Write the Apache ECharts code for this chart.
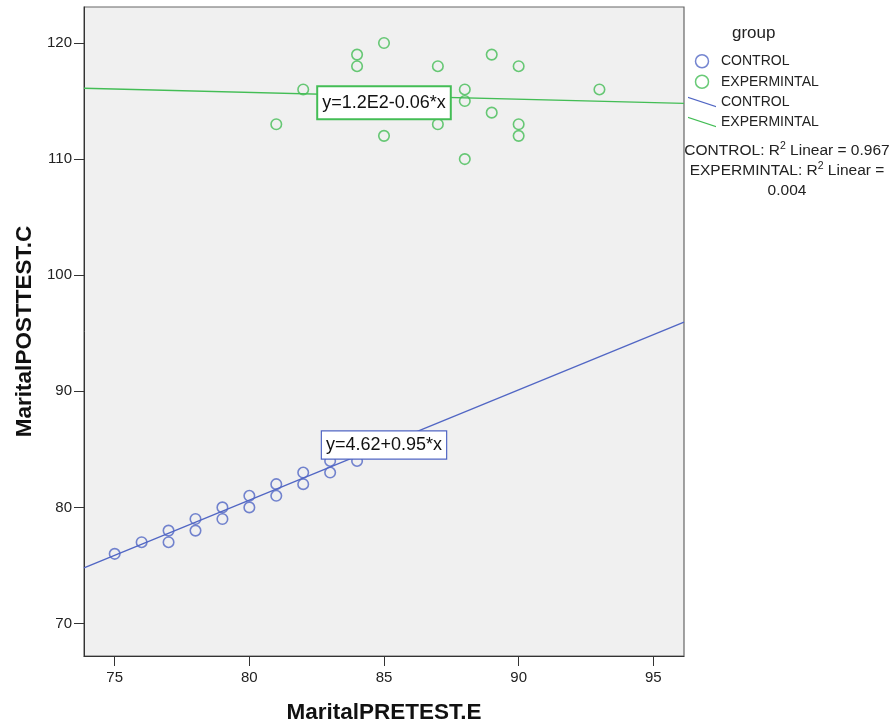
<!DOCTYPE html>
<html style="height: 100%">
<head>
<meta charset="utf-8">
</head>
<body style="height: 100%; margin: 0; background: #fff">
<div id="container" style="width: 892px; height: 724px"></div>
<script src="https://cdn.jsdelivr.net/npm/echarts@6/dist/echarts.min.js"></script>
<script>
// pretest / posttest scores per group
var controlX = [75, 76, 77, 77, 78, 78, 79, 79, 80, 80, 81, 81, 82, 82, 83, 83, 84];
var controlY = [76, 77, 78, 77, 79, 78, 80, 79, 81, 80, 82, 81, 83, 82, 84, 83, 84];
var expX = [85, 84, 84, 87, 89, 90, 82, 88, 88, 93, 81, 87, 89, 90, 85, 90, 88];
var expY = [120, 119, 118, 118, 119, 118, 116, 116, 115, 116, 113, 113, 114, 113, 112, 112, 110];

// fitted lines (intercept, slope) and their labels
var controlFit = [4.62, 0.95];
var expFit = [120.43, -0.0586];
var controlFitLabel = 'y=4.62+0.95*x';
var expFitLabel = 'y=1.2E2-0.06*x';
var r2Control = '0.967';
var r2Exp = '0.004';

var xTicks = [75, 80, 85, 90, 95];
var yTicks = [70, 80, 90, 100, 110, 120];
var xMin = 73.86, xMax = 96.14;
var yMin = 67.2, yMax = 123.1;

var blue = '#5166c4';
var green = '#43bd55';

function pairs(xs, ys) {
    var res = [];
    for (var i = 0; i < xs.length; i++) res.push([xs[i], ys[i]]);
    return res;
}
function fitLine(fit) {
    return [[xMin, fit[0] + fit[1] * xMin], [xMax, fit[0] + fit[1] * xMax]];
}

var font = '"Liberation Sans", Arial, sans-serif';

var myChart = echarts.init(document.getElementById('container'));

var option = {
    animation: false,
    textStyle: { fontFamily: font },
    grid: {
        left: 84, right: 208, top: 7, bottom: 68,
        outerBoundsMode: 'none',
        containLabel: false,
        show: true,
        backgroundColor: '#f0f0f0',
        borderColor: '#666',
        borderWidth: 1.2
    },
    title: {
        text: 'group',
        left: 727, top: 20,
        textStyle: { fontSize: 17, fontWeight: 'normal', color: '#222', fontFamily: font }
    },
    legend: {
        orient: 'vertical',
        left: 683, top: 49,
        itemWidth: 28, itemHeight: 13, itemGap: 6,
        selectedMode: false,
        textStyle: { fontSize: 14, color: '#222', fontFamily: font },
        formatter: function (name) { return name.trim(); },
        data: [
            { name: 'CONTROL', icon: 'circle', itemStyle: { color: 'rgba(0,0,0,0)', borderColor: blue, borderWidth: 1.5 } },
            { name: 'EXPERMINTAL', icon: 'circle', itemStyle: { color: 'rgba(0,0,0,0)', borderColor: green, borderWidth: 1.5 } },
            { name: 'CONTROL ', icon: 'path://M0,0L30,10L30,11.4L0,1.4Z', itemStyle: { color: blue, borderWidth: 0 } },
            { name: 'EXPERMINTAL ', icon: 'path://M0,0L30,10L30,11.4L0,1.4Z', itemStyle: { color: green, borderWidth: 0 } }
        ]
    },
    graphic: [{
        type: 'text',
        x: 787, y: 141,
        style: {
            text: '{a|CONTROL: R}{s|2}{a| Linear = ' + r2Control + '}\n{a|EXPERMINTAL: R}{s|2}{a| Linear =}\n{a|' + r2Exp + '}',
            align: 'center',
            fill: '#222',
            font: '15.5px ' + font,
            rich: {
                a: { fontSize: 15.5, lineHeight: 20, fontFamily: font, color: '#222' },
                s: { fontSize: 10.5, lineHeight: 20, verticalAlign: 'top', padding: [0, 0, 7, 0], fontFamily: font, color: '#222' }
            }
        }
    }],
    xAxis: {
        type: 'value',
        min: xMin, max: xMax,
        name: 'MaritalPRETEST.E',
        nameLocation: 'middle',
        nameGap: 45,
        nameTextStyle: { fontSize: 22.5, fontWeight: 'bold', color: '#111', fontFamily: font },
        axisLine: { show: true, lineStyle: { color: '#333' } },
        axisTick: { show: true, length: 10, customValues: xTicks, lineStyle: { color: '#333' } },
        axisLabel: { customValues: xTicks, fontSize: 15, color: '#222', margin: 14 },
        splitLine: { show: false }
    },
    yAxis: {
        type: 'value',
        min: yMin, max: yMax,
        name: 'MaritalPOSTTEST.C',
        nameLocation: 'middle',
        nameGap: 47,
        nameTextStyle: { fontSize: 22.5, fontWeight: 'bold', color: '#111', fontFamily: font },
        axisLine: { show: true, lineStyle: { color: '#333' } },
        axisTick: { show: true, length: 10, customValues: yTicks, lineStyle: { color: '#333' } },
        axisLabel: { customValues: yTicks, fontSize: 15, color: '#222', margin: 12 },
        splitLine: { show: false }
    },
    series: [
        {
            name: 'CONTROL ',
            type: 'line',
            data: fitLine(controlFit),
            showSymbol: false,
            symbol: 'none',
            silent: true,
            lineStyle: { color: blue, width: 1.3 },
            itemStyle: { color: blue },
            z: 2
        },
        {
            name: 'EXPERMINTAL ',
            type: 'line',
            data: fitLine(expFit),
            showSymbol: false,
            symbol: 'none',
            silent: true,
            lineStyle: { color: green, width: 1.3 },
            itemStyle: { color: green },
            z: 2
        },
        {
            name: 'CONTROL',
            type: 'scatter',
            data: pairs(controlX, controlY),
            symbol: 'circle',
            symbolSize: 10.5,
            itemStyle: { color: 'rgba(0,0,0,0)', borderColor: blue, borderWidth: 1.6 },
            z: 3
        },
        {
            name: 'EXPERMINTAL',
            type: 'scatter',
            data: pairs(expX, expY),
            symbol: 'circle',
            symbolSize: 10.5,
            itemStyle: { color: 'rgba(0,0,0,0)', borderColor: green, borderWidth: 1.6 },
            z: 3
        },
        {
            name: 'controlLabel',
            type: 'scatter',
            data: [[85, controlFit[0] + controlFit[1] * 85]],
            symbolSize: 1,
            silent: true,
            itemStyle: { color: 'rgba(0,0,0,0)', borderWidth: 0 },
            label: {
                show: true, position: 'inside',
                formatter: controlFitLabel,
                fontSize: 18, color: '#111', fontFamily: font,
                textBorderWidth: 0, opacity: 1,
                backgroundColor: '#fff', borderColor: blue, borderWidth: 1.2,
                padding: [5, 4, 4, 4]
            },
            z: 5
        },
        {
            name: 'expLabel',
            type: 'scatter',
            data: [[85, expFit[0] + expFit[1] * 85]],
            symbolSize: 1,
            silent: true,
            itemStyle: { color: 'rgba(0,0,0,0)', borderWidth: 0 },
            label: {
                show: true, position: 'inside',
                offset: [0, 7],
                formatter: expFitLabel,
                fontSize: 18, color: '#111', fontFamily: font,
                textBorderWidth: 0, opacity: 1,
                backgroundColor: '#fff', borderColor: green, borderWidth: 2,
                padding: [7, 4, 6, 4]
            },
            z: 5
        }
    ]
};

myChart.setOption(option);
</script>
</body>
</html>
